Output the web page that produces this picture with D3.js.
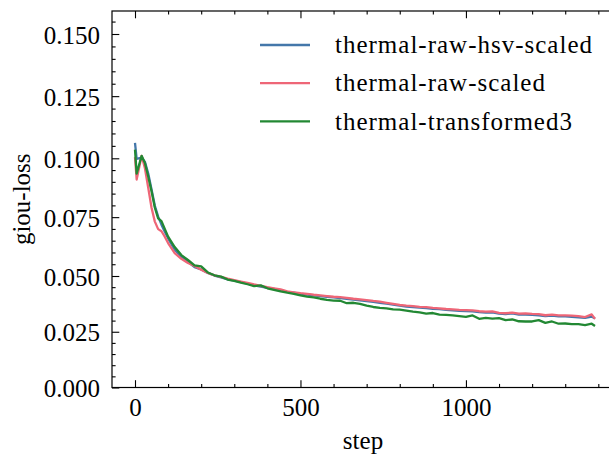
<!DOCTYPE html>
<html>
<head>
<meta charset="utf-8">
<script src="https://cdn.jsdelivr.net/npm/d3@7"></script>
<style>
  html, body { margin: 0; padding: 0; background: #ffffff; }
  svg { display: block; }
  text { font-family: "Liberation Serif", "Times New Roman", serif; fill: #000; }
</style>
</head>
<body>
<svg id="chart" width="609" height="458"></svg>
<script>
// ---------------- data ----------------
const steps = [0, 5, 20, 30, 40, 50, 60, 70, 80, 90, 100,
  120, 140, 160, 180, 200, 220, 240, 260, 280, 300,
  320, 340, 360, 380, 400, 420, 440, 460, 480, 500,
  520, 540, 560, 580, 600, 620, 640, 660, 680, 700,
  720, 740, 760, 780, 800, 820, 840, 860, 880, 900,
  920, 940, 960, 980, 1000, 1020, 1040, 1060, 1080, 1100,
  1120, 1140, 1160, 1180, 1200, 1220, 1240, 1260, 1280, 1300,
  1320, 1340, 1360, 1380, 1390];

const hsvScaled = [0.1062, 0.0998, 0.1003, 0.0985, 0.0935, 0.0868, 0.0798, 0.0752, 0.0718, 0.0688, 0.0660,
  0.0612, 0.0582, 0.0560, 0.0538, 0.0528, 0.0513, 0.0502, 0.0494, 0.0485, 0.0479,
  0.0472, 0.0466, 0.0458, 0.0452, 0.0447, 0.0442, 0.0437, 0.0429, 0.0425, 0.0420,
  0.0417, 0.0413, 0.0410, 0.0407, 0.0404, 0.0401, 0.0398, 0.0394, 0.0391, 0.0387,
  0.0384, 0.0380, 0.0376, 0.0372, 0.0367, 0.0363, 0.0361, 0.0358, 0.0356, 0.0353,
  0.0351, 0.0348, 0.0346, 0.0344, 0.0343, 0.0341, 0.0338, 0.0336, 0.0337, 0.0331,
  0.0329, 0.0332, 0.0327, 0.0327, 0.0326, 0.0324, 0.0320, 0.0322, 0.0319, 0.0319,
  0.0317, 0.0315, 0.0312, 0.0318, 0.0309];

const rawScaled = [0.1005, 0.0910, 0.1010, 0.0958, 0.0875, 0.0790, 0.0731, 0.0699, 0.0690, 0.0667, 0.0640,
  0.0597, 0.0573, 0.0555, 0.0543, 0.0527, 0.0513, 0.0503, 0.0496, 0.0488, 0.0481,
  0.0475, 0.0469, 0.0462, 0.0456, 0.0450, 0.0445, 0.0440, 0.0431, 0.0427, 0.0423,
  0.0420, 0.0416, 0.0413, 0.0410, 0.0407, 0.0405, 0.0402, 0.0398, 0.0395, 0.0392,
  0.0388, 0.0385, 0.0380, 0.0375, 0.0370, 0.0367, 0.0365, 0.0362, 0.0360, 0.0357,
  0.0355, 0.0352, 0.0350, 0.0348, 0.0347, 0.0346, 0.0342, 0.0340, 0.0341, 0.0335,
  0.0333, 0.0336, 0.0331, 0.0332, 0.0330, 0.0329, 0.0324, 0.0327, 0.0323, 0.0323,
  0.0322, 0.0320, 0.0316, 0.0328, 0.0308];

const transformed3 = [0.1035, 0.0935, 0.1010, 0.0980, 0.0923, 0.0860, 0.0790, 0.0745, 0.0733, 0.0700, 0.0667,
  0.0623, 0.0589, 0.0568, 0.0545, 0.0541, 0.0515, 0.0503, 0.0497, 0.0484, 0.0478,
  0.0470, 0.0463, 0.0455, 0.0458, 0.0445, 0.0438, 0.0431, 0.0425, 0.0420, 0.0413,
  0.0408, 0.0404, 0.0398, 0.0393, 0.0390, 0.0389, 0.0378, 0.0380, 0.0375, 0.0367,
  0.0361, 0.0357, 0.0355, 0.0350, 0.0349, 0.0345, 0.0340, 0.0337, 0.0331, 0.0334,
  0.0327, 0.0326, 0.0323, 0.0320, 0.0317, 0.0323, 0.0308, 0.0312, 0.0309, 0.0311,
  0.0302, 0.0305, 0.0297, 0.0296, 0.0296, 0.0302, 0.0290, 0.0296, 0.0286, 0.0287,
  0.0284, 0.0284, 0.0280, 0.0286, 0.0276];

const seriesNames = ["thermal-raw-hsv-scaled", "thermal-raw-scaled", "thermal-transformed3"];
const seriesValues = [hsvScaled, rawScaled, transformed3];
const seriesColors = ["#4477AA", "#EE6677", "#228833"];

const xTickValues = [0, 500, 1000];
const yTickValues = [0, 0.025, 0.05, 0.075, 0.1, 0.125, 0.15];
const xLabel = "step";
const yLabel = "giou-loss";

// ---------------- layout ----------------
const svg = d3.select("#chart");
const frame = { left: 112, right: 618, top: 11, bottom: 387.5 };
const majorLen = 7.3, minorLen = 3.6;
const fontSize = 25;

const x = d3.scaleLinear().domain([-69.5, 1459.5]).range([frame.left, frame.right]);
// the reference's y axis is slightly non-uniform; follow it with a polylinear scale
const y = d3.scaleLinear()
  .domain([0, 0.05, 0.1, 0.15])
  .range([387.5, 276, 158.3, 34]);

// lines
const line = d3.line().x(d => x(d[0])).y(d => y(d[1]));
const plot = svg.append("g");
seriesValues.forEach((vals, i) => {
  plot.append("path")
    .datum(steps.map((s, k) => [s, vals[k]]))
    .attr("d", line)
    .attr("fill", "none")
    .attr("stroke", seriesColors[i])
    .attr("stroke-width", 2.3)
    .attr("stroke-linejoin", "round")
    .attr("stroke-linecap", "butt");
});

// minor tick values
const xMinor = d3.range(0, 15).map(i => i * 100).filter(v => v % 500 !== 0);
const yMinor = d3.range(0, 32).filter(i => i % 5 !== 0).map(i => i * 0.005);

function styleAxis(g) {
  g.select(".domain").remove();
  g.selectAll(".tick line").attr("stroke", "#000").attr("stroke-width", 1.1);
  g.selectAll(".tick text")
    .style("font-family", '"Liberation Serif", serif')
    .style("font-size", fontSize + "px")
    .attr("fill", "#000");
}

// bottom axis
svg.append("g").attr("transform", `translate(0,${frame.bottom})`)
  .call(d3.axisBottom(x).tickValues(xTickValues).tickSize(-majorLen).tickPadding(11).tickFormat(d3.format("d")))
  .call(styleAxis);
svg.append("g").attr("transform", `translate(0,${frame.bottom})`)
  .call(d3.axisBottom(x).tickValues(xMinor).tickSize(-minorLen).tickFormat(""))
  .call(styleAxis);
// top axis
svg.append("g").attr("transform", `translate(0,${frame.top})`)
  .call(d3.axisTop(x).tickValues(xTickValues).tickSize(-majorLen).tickFormat(""))
  .call(styleAxis);
svg.append("g").attr("transform", `translate(0,${frame.top})`)
  .call(d3.axisTop(x).tickValues(xMinor).tickSize(-minorLen).tickFormat(""))
  .call(styleAxis);
// left axis
svg.append("g").attr("transform", `translate(${frame.left},0)`)
  .call(d3.axisLeft(y).tickValues(yTickValues).tickSize(-majorLen).tickPadding(12).tickFormat(d3.format(".3f")))
  .call(styleAxis)
  .call(g => g.selectAll(".tick text").attr("dy", "0.36em"));
svg.append("g").attr("transform", `translate(${frame.left},0)`)
  .call(d3.axisLeft(y).tickValues(yMinor).tickSize(-minorLen).tickFormat(""))
  .call(styleAxis);

// frame
svg.append("rect")
  .attr("x", frame.left).attr("y", frame.top)
  .attr("width", frame.right - frame.left).attr("height", frame.bottom - frame.top)
  .attr("fill", "none").attr("stroke", "#000").attr("stroke-width", 1.2);

// axis labels
svg.append("text")
  .attr("x", (frame.left + frame.right) / 2 - 2).attr("y", 449)
  .attr("text-anchor", "middle")
  .style("font-size", fontSize + "px")
  .text(xLabel);
svg.append("text")
  .attr("transform", `translate(30,${(frame.top + frame.bottom) / 2}) rotate(-90)`)
  .attr("text-anchor", "middle")
  .style("font-size", fontSize + "px")
  .text(yLabel);

// legend
const legend = svg.append("g");
seriesNames.forEach((name, i) => {
  const ly = 45 + i * 38.2;
  legend.append("line")
    .attr("x1", 260).attr("x2", 310).attr("y1", ly).attr("y2", ly)
    .attr("stroke", seriesColors[i]).attr("stroke-width", 2.3);
  legend.append("text")
    .attr("x", 335).attr("y", ly).attr("dy", "0.33em")
    .style("font-size", fontSize + "px")
    .style("letter-spacing", "1px")
    .text(name);
});
</script>
</body>
</html>
